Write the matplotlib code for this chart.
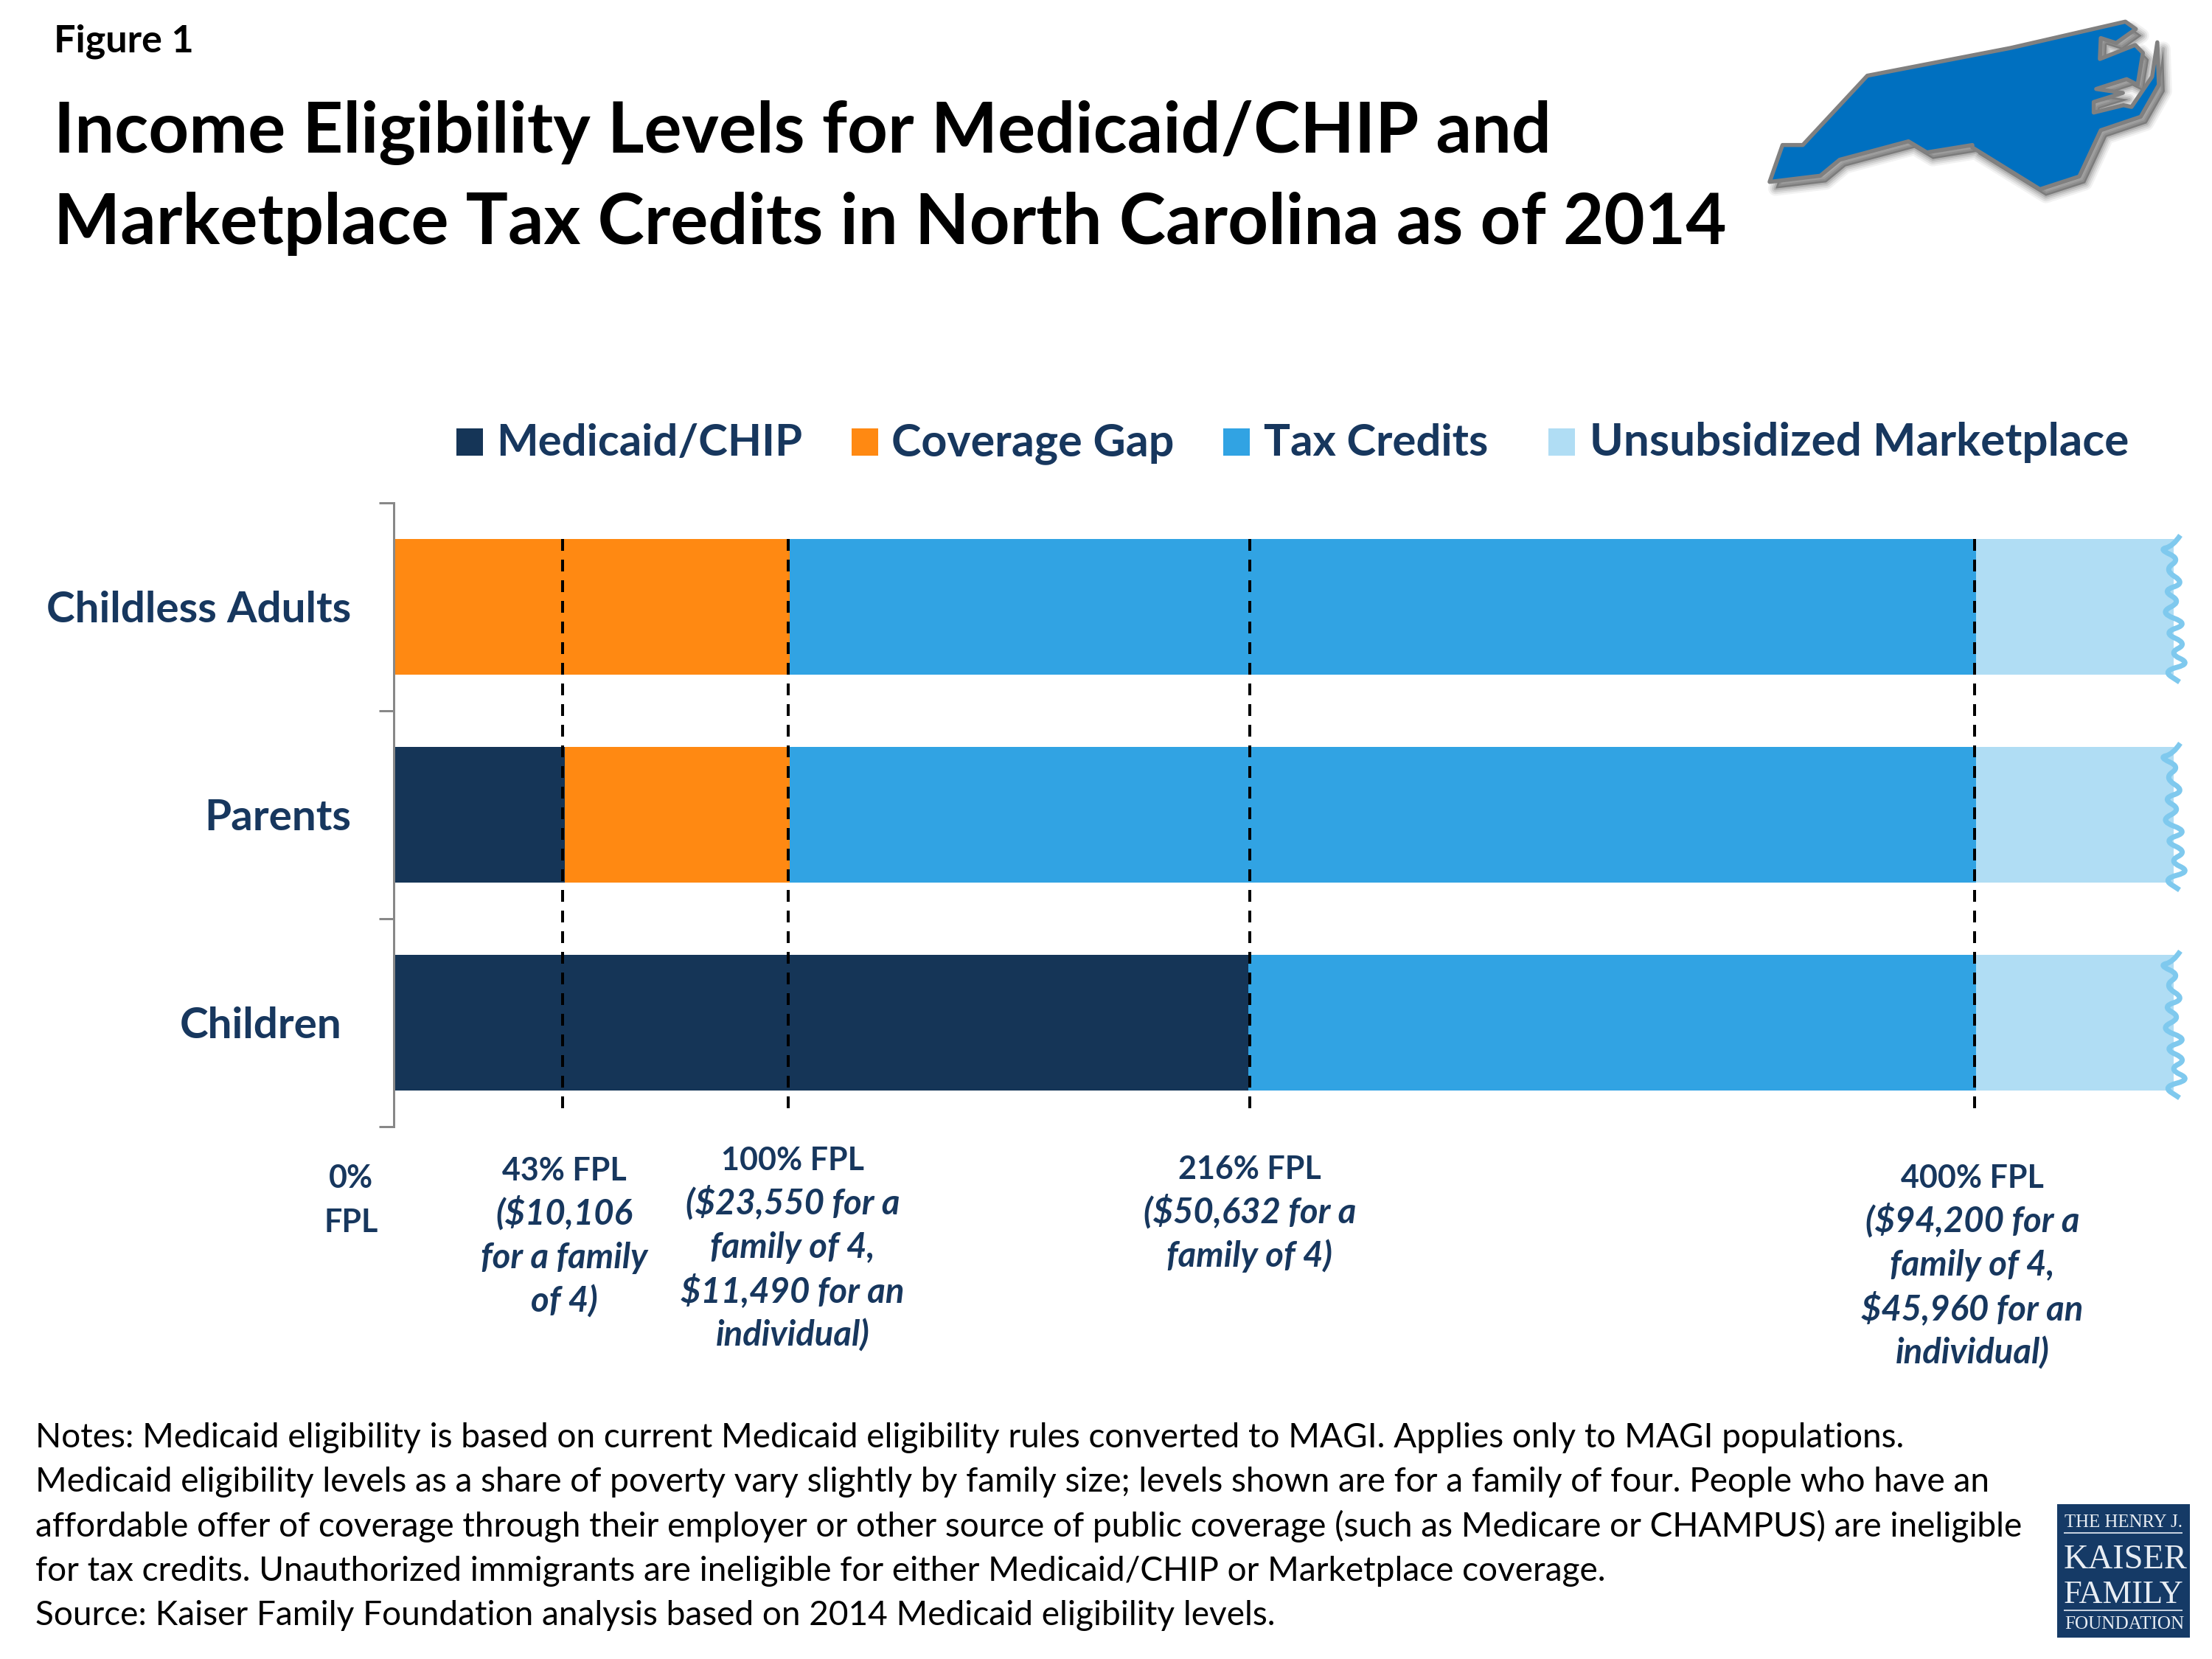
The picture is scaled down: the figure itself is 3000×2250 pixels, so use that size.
import matplotlib
matplotlib.use("Agg")
import matplotlib.pyplot as plt
from matplotlib.patches import Polygon, Rectangle, PathPatch
from matplotlib.path import Path
from matplotlib.transforms import ScaledTranslation

W, H, DPI = 3000, 2250, 300
NAVY, ORANGE, BLUE, LIGHT = "#153557", "#FF8912", "#31A3E3", "#B0DDF4"
TXT = "#17375E"

categories = ["Childless Adults", "Parents", "Children"]
medicaid = [0, 43, 216]
gap = [100, 57, 0]
credits = [300, 300, 184]
unsub = [50, 50, 50]
fpl_lines = [43, 100, 216, 400]
series_names = ["Medicaid/CHIP", "Coverage Gap", "Tax Credits", "Unsubsidized Marketplace"]

fig = plt.figure(figsize=(W / DPI, H / DPI), dpi=DPI, facecolor="white")
px = 72 / DPI  # points per pixel

# main axes
ax = fig.add_axes([535 / W, 1 - 1528 / H, (2948 - 535) / W, (1528 - 682) / H])
ax.set_xlim(0, 450)
ax.set_ylim(2.5, -0.5)
ax.patch.set_alpha(0)
ys = range(len(categories))
bh = 184 / 282
left = [0, 0, 0]
for vals, col in zip([medicaid, gap, credits, unsub], [NAVY, ORANGE, BLUE, LIGHT]):
    ax.barh(list(ys), vals, left=left, height=bh, color=col, linewidth=0, zorder=2)
    left = [a + b for a, b in zip(left, vals)]

for val, nudge in zip(fpl_lines, [-2.5, -2, 2, -2]):
    tr = ax.transData + ScaledTranslation(nudge / DPI, 0, fig.dpi_scale_trans)
    ax.vlines([val], -bh / 2, 2.411, colors="black", linewidth=4 * px,
              linestyles=(0, (4, 3)), zorder=3, transform=tr, clip_on=False)

for s in ["top", "right", "bottom"]:
    ax.spines[s].set_visible(False)
ax.spines["left"].set_color("#888888")
ax.spines["left"].set_linewidth(3 * px)
ax.spines["left"].set_position(("outward", 1.4 * px))
ax.set_xticks([])
ax.set_yticks([-0.5, 0.5, 1.5, 2.5], minor=True)
ax.tick_params(axis="y", which="minor", length=20 * px, width=3 * px, color="#888888")
ax.set_yticks(list(ys), categories)
ax.tick_params(axis="y", which="major", length=0, pad=57 * px)
label_nudge = [0, 0, -13]
for tick, dx in zip(ax.yaxis.get_major_ticks(), label_nudge):
    lab = tick.label1
    lab.set_fontfamily("Lato")
    lab.set_fontweight("bold")
    lab.set_color(TXT)
    lab.set_fontsize(14.0)
    lab.set_transform(lab.get_transform() + ScaledTranslation(dx / DPI, 1 / DPI, fig.dpi_scale_trans))

# pixel overlay for text and decorations
ov = fig.add_axes([0, 0, 1, 1])
ov.set_xlim(0, W)
ov.set_ylim(H, 0)
ov.axis("off")
ov.patch.set_alpha(0)

# torn right edge of each bar: offsets in px from the bar's end / centre
wig = [(9, -97), (-1, -82), (-20, -78), (9, -65), (-13, -50), (16, -32), (-16, -22), (11, -7),
       (-20, 8), (21, 23), (-15, 35), (19, 50), (-7, 63), (24, 77), (-15, 87), (8, 102)]
for y in ys:
    verts = [(2948 + dx, 823 + y * 282 + dy) for dx, dy in wig]
    v = [verts[0]]
    c = [Path.MOVETO]
    for i in range(1, len(verts) - 1):
        mid = ((verts[i][0] + verts[i + 1][0]) / 2, (verts[i][1] + verts[i + 1][1]) / 2)
        v += [verts[i], mid]
        c += [Path.CURVE3, Path.CURVE3]
    v.append(verts[-1])
    c.append(Path.LINETO)
    ov.add_patch(PathPatch(Path(v, c), fill=False, edgecolor="#7FC9EE", linewidth=7 * px,
                           capstyle="butt", joinstyle="round"))

renderer = fig.canvas.get_renderer()


def fit(s, width, **kw):
    t = ov.text(0, 0, s, fontsize=10, **kw)
    w = t.get_window_extent(renderer).width
    t.remove()
    return 10 * width / w


def T(x, y, s, size, ha="left", **kw):
    kw.setdefault("color", "black")
    ov.text(x, y, s, fontsize=size, ha=ha, va="baseline", **kw)


CAL = dict(family="Lato")
T(73, 70, "Figure 1", fit("Figure 1", 190, weight="bold", **CAL), weight="bold", **CAL)
title = ["Income Eligibility Levels for Medicaid/CHIP and",
         "Marketplace Tax Credits in North Carolina as of 2014"]
ts = fit(title[0], 2030, weight="bold", **CAL)
T(73, 207, title[0], ts, weight="bold", **CAL)
T(73, 331, title[1], ts, weight="bold", **CAL)

# legend
LF = dict(family="Lato", weight="bold", color=TXT)
for name, col, sx, tx, wd in zip(series_names, [NAVY, ORANGE, BLUE, LIGHT],
                                 [619, 1155, 1659, 2100], [673, 1209, 1714, 2156],
                                 [414, 383, 304, 731]):
    ov.add_patch(Rectangle((sx, 581), 36, 37, facecolor=col, edgecolor="none"))
    T(tx, 618, name, fit(name, wd, **LF), **LF)

# FPL labels
FB = dict(family="Lato", color=TXT, weight="bold")
fs1 = fit("100% FPL", 194, **FB)
fs2 = fit("($23,550 for a", 290, style="italic", **FB)
fpl_text = [
    (476, 1611, ["0%", "FPL"]),
    (765, 1601, ["43% FPL", "($10,106", "for a family", "of 4)"]),
    (1075, 1587, ["100% FPL", "($23,550 for a", "family of 4,", "$11,490 for an", "individual)"]),
    (1695, 1599, ["216% FPL", "($50,632 for a", "family of 4)"]),
    (2675, 1611, ["400% FPL", "($94,200 for a", "family of 4,", "$45,960 for an", "individual)"]),
]
for x, y0, lines in fpl_text:
    for i, s in enumerate(lines):
        first = i == 0 or s == "FPL"
        T(x, y0 + i * 59.6, s, fs1 if first else fs2, ha="center",
          style="normal" if first else "italic", **FB)

# notes
notes = ["Notes: Medicaid eligibility is based on current Medicaid eligibility rules converted to MAGI. Applies only to MAGI populations.",
         "Medicaid eligibility levels as a share of poverty vary slightly by family size; levels shown are for a family of four. People who have an",
         "affordable offer of coverage through their employer or other source of public coverage (such as Medicare or CHAMPUS) are ineligible",
         "for tax credits. Unauthorized immigrants are ineligible for either Medicaid/CHIP or Marketplace coverage.",
         "Source: Kaiser Family Foundation analysis based on 2014 Medicaid eligibility levels."]
ns = fit(notes[0], 2534, **CAL)
for i, s in enumerate(notes):
    T(48, 1963 + i * 60.3, s, ns, **CAL)

# state icon
nc = [(120, 740), (162, 590), (228, 590), (438, 308), (905, 195), (1278, 88), (1312, 118), (1248, 175),
      (1198, 155), (1195, 240), (1310, 183), (1335, 215), (1318, 345), (1282, 322), (1183, 362), (1270, 378),
      (1175, 415), (1175, 458), (1272, 428), (1298, 435), (1365, 312), (1382, 172), (1387, 345), (1328, 475),
      (1198, 530), (1128, 718), (1000, 770), (780, 600), (780, 590), (632, 620), (572, 575), (348, 650), (285, 715)]
nc_px = [(2350 + a / 2.4, b / 3) for a, b in nc]
for lw, alpha in [(20, .05), (15, .07), (10, .09), (5, .12)]:
    ov.add_patch(Polygon([(a + 8, b + 9) for a, b in nc_px], closed=True, facecolor=(0, 0, 0, alpha),
                         edgecolor=(0, 0, 0, alpha), linewidth=lw * px, joinstyle="round"))
ov.add_patch(Polygon(nc_px, closed=True, facecolor="#0070C0", edgecolor="#808080", linewidth=5.5 * px,
                     joinstyle="round"))

# logo
ov.add_patch(Rectangle((2790, 2040), 180, 181, facecolor="#153A66", edgecolor="none"))
SF = dict(family="Liberation Serif", color="#E8EDF3")
for s, y, x0, wd in [("THE HENRY J.", 2071, 2800, 160), ("KAISER", 2127, 2799, 168),
                     ("FAMILY", 2174, 2799, 163), ("FOUNDATION", 2209, 2800, 162)]:
    T(x0, y, s, fit(s, wd, **SF), **SF)
for y in (2079, 2184):
    ov.plot([2800, 2959], [y, y], color="#C5D0DE", lw=2 * px)

fig.savefig("out.png", dpi=DPI, facecolor="white")
